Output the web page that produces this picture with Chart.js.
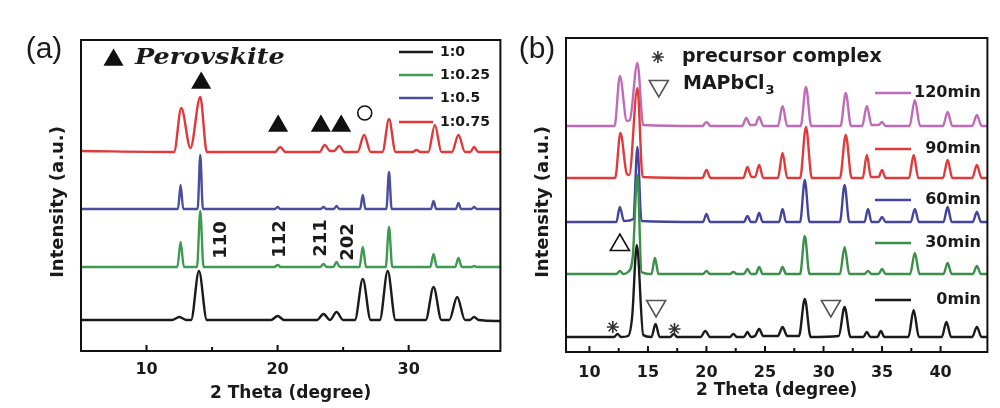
<!DOCTYPE html>
<html>
<head>
<meta charset="utf-8">
<script src="https://cdn.jsdelivr.net/npm/chart.js@4/dist/chart.umd.min.js"></script>
<style>
  html, body { margin: 0; padding: 0; background: #fff; }
  #wrap { position: relative; width: 1000px; height: 408px; overflow: hidden; }
  canvas { position: absolute; top: 0; }
  #chartA { left: 0; }
  #chartB { left: 512px; }
</style>
</head>
<body>
<div id="wrap">
  <canvas id="chartA" width="512" height="408"></canvas>
  <canvas id="chartB" width="488" height="408"></canvas>
</div>
<script>
/* (a) XRD vs ratio -- [2theta, intensity incl. stacking offset] */

const ratioLabels = ['1:0', '1:0.25', '1:0.5', '1:0.75'];

const ratio_1_0 = [
  [5, 31], [11.95, 31], [12.5, 34], [13.05, 31], [13.4, 31], [14.0, 80], [14.6, 31],
  [19.5, 31], [20.0, 35], [20.5, 31], [23.0, 31], [23.5, 37], [24.0, 31], [24.5, 39],
  [25.0, 31], [25.9, 31], [26.5, 72], [27.1, 31], [27.8, 31], [28.4, 80], [29.0, 31],
  [31.3, 31], [31.9, 64], [32.5, 31], [33.1, 31], [33.7, 54], [34.3, 31], [34.65, 31],
  [35.0, 34], [35.35, 31], [37, 30],
];
const ratio_1_025 = [
  [5, 84], [12.35, 84], [12.6, 109], [12.85, 84], [13.85, 84], [14.1, 140], [14.35, 84],
  [19.75, 84], [20.0, 86], [20.25, 84], [23.25, 84], [23.5, 87], [23.75, 84], [24.25, 84],
  [24.5, 89], [24.75, 84], [26.25, 84], [26.5, 104], [26.75, 84], [28.25, 84], [28.5, 124],
  [28.75, 84], [31.65, 84], [31.9, 97], [32.15, 84], [33.55, 84], [33.8, 93], [34.05, 84],
  [34.8, 84], [35.0, 85], [35.2, 84], [37, 84],
];
const ratio_1_05 = [
  [5, 142], [12.4, 142], [12.6, 166], [12.8, 142], [13.9, 142], [14.1, 196], [14.3, 142],
  [19.8, 142], [20.0, 144], [20.2, 142], [23.3, 142], [23.5, 144], [23.7, 142], [24.3, 142],
  [24.5, 145], [24.7, 142], [26.3, 142], [26.5, 156], [26.7, 142], [28.3, 142], [28.5, 179],
  [28.7, 142], [31.7, 142], [31.9, 150], [32.1, 142], [33.6, 142], [33.8, 148], [34.0, 142],
  [34.8, 142], [35.0, 144], [35.2, 142], [37, 142],
];
const ratio_1_075 = [
  [5, 200], [12.1, 199], [12.65, 243], [13.35, 203], [14.1, 254], [14.6, 199],
  [19.8, 199], [20.2, 204], [20.6, 199], [23.2, 199], [23.6, 206], [24.0, 200], [24.3, 200],
  [24.7, 205], [25.1, 199], [26.1, 199], [26.6, 216], [27.1, 199], [28.0, 199], [28.5, 232],
  [29.0, 199], [30.3, 199], [30.6, 201], [30.9, 199], [31.5, 199], [32.0, 226], [32.5, 199],
  [33.3, 199], [33.8, 216], [34.3, 199], [34.7, 199], [35.0, 204], [35.3, 199], [37, 199],
];

// markers in (a)
const perovskiteMarks = [[7.48, 291], [14.17, 268], [20.04, 225], [23.3, 225], [24.85, 225]];
const unknownMarks = [[26.65, 238]];
const millerLabels = ['110', '112', '211', '202'];
const millerAt = [[15.7, 111], [20.2, 112], [23.3, 113], [25.4, 109]];

/* (b) XRD vs time */

const timeLabels = ['0min', '30min', '60min', '90min', '120min'];

const t0 = [
  [8, 15], [12.1, 15], [12.4, 18], [12.7, 15], [13.3, 16], [13.65, 35], [14.05, 107], [14.6, 17],
  [15.3, 15], [15.65, 28], [16.0, 15], [16.9, 15], [17.2, 18], [17.5, 15], [19.5, 15], [19.9, 21],
  [20.3, 15], [22.0, 15], [22.3, 18], [22.6, 15], [23.2, 15], [23.5, 20], [23.8, 15], [24.15, 16],
  [24.5, 23], [24.85, 16], [26.1, 16], [26.5, 25], [26.9, 16], [27.9, 16], [28.4, 53], [28.9, 15],
  [31.3, 16], [31.8, 45], [32.3, 15], [33.4, 15], [33.7, 20], [34.0, 15], [34.6, 15], [34.9, 21],
  [35.2, 15], [37.25, 15], [37.7, 42], [38.15, 15], [40.1, 15], [40.5, 30], [40.9, 15], [42.7, 15],
  [43.1, 25], [43.5, 15], [44, 15],
];
const t30 = [
  [8, 78], [12.3, 78], [12.6, 81], [12.9, 78], [13.3, 80], [13.7, 95], [14.1, 177], [14.45, 80],
  [15.3, 78], [15.6, 94], [15.9, 78], [19.7, 78], [20.0, 81], [20.3, 78], [22.0, 78], [22.3, 80],
  [22.6, 78], [23.2, 78], [23.5, 83], [23.8, 78], [24.2, 78], [24.5, 85], [24.8, 78], [26.2, 78],
  [26.5, 85], [26.8, 78], [28.0, 78], [28.4, 116], [28.8, 78], [31.4, 78], [31.8, 105], [32.2, 78],
  [33.5, 78], [33.8, 81], [34.1, 78], [34.7, 78], [35.0, 83], [35.3, 78], [37.4, 78], [37.8, 99],
  [38.2, 78], [40.25, 78], [40.6, 89], [40.95, 78], [42.75, 78], [43.1, 86], [43.45, 78], [44, 78],
];
const t60 = [
  [8, 130], [12.3, 130], [12.6, 145], [12.95, 131], [13.75, 133], [14.1, 205], [14.45, 131],
  [19.7, 130], [20.0, 138], [20.3, 130], [23.2, 130], [23.5, 136], [23.8, 130], [24.2, 130],
  [24.5, 139], [24.8, 130], [26.2, 130], [26.5, 143], [26.8, 130], [28.0, 130], [28.4, 172],
  [28.8, 130], [31.4, 130], [31.8, 167], [32.2, 130], [33.5, 130], [33.8, 143], [34.1, 130],
  [34.7, 130], [35.0, 135], [35.3, 130], [37.45, 130], [37.8, 143], [38.15, 130], [40.25, 130],
  [40.6, 145], [40.95, 130], [42.75, 130], [43.1, 140], [43.45, 130], [44, 130],
];
const t90 = [
  [8, 174], [12.2, 174], [12.65, 219], [13.2, 178], [13.4, 177], [14.1, 264], [14.55, 175],
  [19.65, 174], [20.0, 182], [20.35, 174], [23.15, 174], [23.5, 185], [23.85, 175], [24.15, 175],
  [24.5, 187], [24.85, 174], [26.1, 174], [26.5, 199], [26.9, 174], [28.0, 174], [28.5, 225],
  [29.0, 174], [31.4, 174], [31.9, 217], [32.4, 174], [33.35, 174], [33.7, 197], [34.05, 175],
  [34.7, 175], [35.0, 182], [35.3, 174], [37.3, 174], [37.7, 197], [38.1, 174], [40.2, 174],
  [40.6, 192], [41.0, 174], [42.7, 174], [43.1, 187], [43.5, 174], [44, 174],
];
const t120 = [
  [8, 226], [12.15, 226], [12.6, 276], [13.2, 231], [13.45, 232], [14.1, 289], [14.6, 227],
  [19.65, 226], [20.0, 230], [20.35, 226], [23.05, 226], [23.4, 234], [23.75, 227], [24.15, 227],
  [24.5, 235], [24.85, 226], [26.1, 226], [26.5, 246], [26.9, 226], [28.05, 226], [28.5, 265],
  [28.95, 226], [31.45, 226], [31.9, 259], [32.35, 226], [33.3, 226], [33.7, 246], [34.1, 227],
  [34.7, 227], [35.0, 230], [35.3, 226], [37.35, 226], [37.8, 252], [38.25, 226], [40.2, 226],
  [40.6, 240], [41.0, 226], [42.7, 226], [43.1, 237], [43.5, 226], [44, 226],
];

// markers in (b)
const precursorMarks = [[15.85, 295], [12.0, 25], [17.27, 23]];
const chlorideMarks = [[15.93, 266], [15.7, 46], [30.63, 46]];
const openTriMarks = [[12.6, 107]];

const SANS = 'DejaVu Sans';
const pts = arr => arr.map(p => ({ x: p[0], y: p[1] }));

function curve(label, data, color) {
  return {
    label: label, data: pts(data), showLine: true, borderColor: color,
    borderWidth: 2.4, pointRadius: 0, cubicInterpolationMode: 'monotone',
  };
}
function marks(data, style, fill, stroke, r, rot) {
  return {
    data: pts(data), showLine: false, pointStyle: style, pointRadius: r,
    pointRotation: rot || 0, backgroundColor: fill, borderColor: stroke, borderWidth: 1.6,
  };
}

// frame, inward ticks, legend and free texts
const decor = {
  id: 'decor',
  afterDatasetsDraw(chart, args, o) {
    const { ctx, chartArea: a, scales: { x, y } } = chart;
    ctx.save();
    ctx.strokeStyle = '#111';
    ctx.lineWidth = 2;
    ctx.strokeRect(a.left, a.top, a.right - a.left, a.bottom - a.top);
    x.ticks.forEach(t => {
      if (t.value <= x.min || t.value >= x.max) return;
      const px = x.getPixelForValue(t.value);
      const len = t.value % o.major === 0 ? 6 : 4;
      ctx.beginPath();
      ctx.moveTo(px, a.bottom);
      ctx.lineTo(px, a.bottom - len);
      ctx.stroke();
    });

    // legend
    const lg = o.legend;
    ctx.font = lg.font;
    ctx.textBaseline = 'middle';
    ctx.textAlign = lg.align;
    lg.labels.forEach((lab, i) => {
      ctx.strokeStyle = lg.colors[i];
      ctx.lineWidth = 2.5;
      ctx.beginPath();
      ctx.moveTo(lg.x1, lg.rows[i]);
      ctx.lineTo(lg.x2, lg.rows[i]);
      ctx.stroke();
      ctx.fillStyle = '#1a1a1a';
      ctx.fillText(lab, lg.tx, lg.rows[i]);
    });

    // texts, either in pixels or in data units
    o.texts.forEach(t => {
      const px = t.data ? x.getPixelForValue(t.x) : t.x;
      const py = t.data ? y.getPixelForValue(t.y) : t.y;
      ctx.save();
      ctx.translate(px, py);
      if (t.rot) ctx.rotate(t.rot);
      if (t.sx) ctx.scale(t.sx, 1);
      ctx.font = t.font;
      ctx.fillStyle = t.color || '#1a1a1a';
      ctx.textAlign = t.align || 'center';
      ctx.textBaseline = 'middle';
      ctx.fillText(t.text, 0, 0);
      if (t.sub) {
        const w = ctx.measureText(t.text).width;
        ctx.font = t.subFont;
        ctx.textAlign = 'left';
        ctx.fillText(t.sub, w + 1, 7);
      }
      ctx.restore();
    });
    ctx.restore();
  },
};

function xAxis(min, max, step, labelEvery, tickPad, titlePad, height) {
  return {
    type: 'linear', min: min, max: max,
    grid: { display: false }, border: { display: false },
    ticks: {
      stepSize: step, autoSkip: false, maxRotation: 0, padding: tickPad, color: '#1a1a1a',
      font: { family: SANS, weight: 'bold', size: 16 },
      callback: v => (v % labelEvery === 0 && v > min && v < max ? v : ''),
    },
    title: {
      display: true, text: '2 Theta (degree)', color: '#1a1a1a',
      font: { family: SANS, weight: 'bold', size: 17 },
      padding: { top: 0, bottom: titlePad },
    },
    afterFit: s => { s.height = height; },
  };
}

// panel (a)
const colA = ['#1a1a1a', '#3d9a4f', '#4b4d9f', '#e2383a'];
new Chart(document.getElementById('chartA'), {
  type: 'scatter',
  data: {
    datasets: [
      marks(perovskiteMarks, 'triangle', '#111', '#111', 10),
      marks(unknownMarks, 'circle', 'rgba(0,0,0,0)', '#111', 7),
      curve(ratioLabels[0], ratio_1_0, colA[0]),
      curve(ratioLabels[1], ratio_1_025, colA[1]),
      curve(ratioLabels[2], ratio_1_05, colA[2]),
      curve(ratioLabels[3], ratio_1_075, colA[3]),
    ],
  },
  options: {
    responsive: false, animation: false,
    layout: { padding: { left: 81, top: 40, right: 5, bottom: 0 } },
    scales: {
      x: xAxis(5, 37, 5, 10, 1, 4, 57),
      y: { display: false, min: 0, max: 311 },
    },
    plugins: {
      legend: { display: false }, tooltip: { enabled: false },
      decor: {
        major: 10,
        legend: {
          labels: ratioLabels, colors: colA, rows: [52, 75, 98, 122],
          x1: 399, x2: 433, tx: 440, align: 'left', font: 'bold 14px "DejaVu Sans"',
        },
        texts: [
          { text: '(a)', x: 44, y: 50, font: '30px "Liberation Sans"' },
          { text: 'Intensity (a.u.)', x: 58, y: 202, rot: -Math.PI / 2, font: 'bold 18px "DejaVu Sans"' },
          { text: 'Perovskite', x: 135, y: 58, align: 'left', sx: 1.16, font: 'italic bold 22px "DejaVu Serif"' },
          ...millerLabels.map((m, i) => ({
            text: m, data: true, x: millerAt[i][0], y: millerAt[i][1], rot: -Math.PI / 2,
            font: 'bold 18px "DejaVu Sans"',
          })),
        ],
      },
    },
  },
  plugins: [decor],
});

// panel (b)
const colB = ['#1a1a1a', '#3a9048', '#4444a0', '#e03a3a', '#c06ab8'];
new Chart(document.getElementById('chartB'), {
  type: 'scatter',
  data: {
    datasets: [
      marks(precursorMarks, 'star', 'rgba(0,0,0,0)', '#333', 6),
      marks(chlorideMarks, 'triangle', 'rgba(0,0,0,0)', '#555', 11, 180),
      marks(openTriMarks, 'triangle', 'rgba(0,0,0,0)', '#111', 11),
      curve(timeLabels[0], t0, colB[0]),
      curve(timeLabels[1], t30, colB[1]),
      curve(timeLabels[2], t60, colB[2]),
      curve(timeLabels[3], t90, colB[3]),
      curve(timeLabels[4], t120, colB[4]),
    ],
  },
  options: {
    responsive: false, animation: false,
    layout: { padding: { left: 54, top: 38, right: 3, bottom: 0 } },
    scales: {
      x: xAxis(8, 44, 2.5, 5, 3, 7, 56),
      y: { display: false, min: 0, max: 314 },
    },
    plugins: {
      legend: { display: false }, tooltip: { enabled: false },
      decor: {
        major: 5,
        legend: {
          labels: timeLabels, colors: colB, rows: [300, 243, 200, 149, 93],
          x1: 363, x2: 399, tx: 469, align: 'right', font: 'bold 16px "DejaVu Sans"',
        },
        texts: [
          { text: '(b)', x: 25, y: 50, font: '30px "Liberation Sans"' },
          { text: 'Intensity (a.u.)', x: 31, y: 202, rot: -Math.PI / 2, font: 'bold 18px "DejaVu Sans"' },
          { text: 'precursor complex', x: 170, y: 57, align: 'left', font: 'bold 19px "DejaVu Sans"' },
          { text: 'MAPbCl', sub: '3', x: 171, y: 84, align: 'left',
            font: 'bold 19px "DejaVu Sans"', subFont: 'bold 13px "DejaVu Sans"' },
        ],
      },
    },
  },
  plugins: [decor],
});
</script>
</body>
</html>
